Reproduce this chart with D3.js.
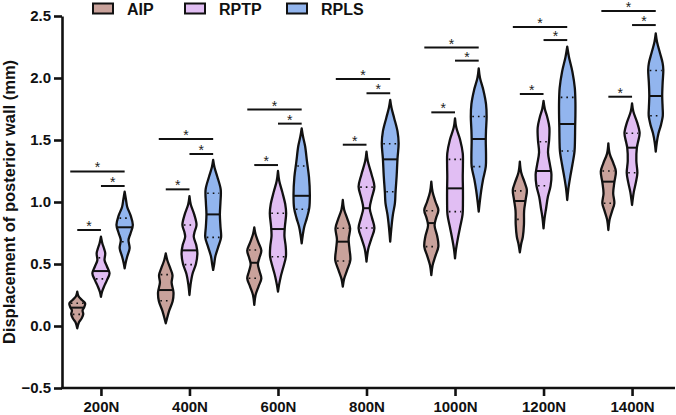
<!DOCTYPE html>
<html>
<head>
<meta charset="utf-8">
<script src="https://cdn.jsdelivr.net/npm/d3@7"></script>
<style>
  body { margin: 0; background: #fff; }
  text { font-family: "Liberation Sans", Arial, sans-serif; }
</style>
</head>
<body>
<div id="chart"></div>
<script>
/* global d3 */

var w = 676,
    h = 415;

var loads = ["200N", "400N", "600N", "800N", "1000N", "1200N", "1400N"];
var groups = ["AIP", "RPTP", "RPLS"];
var yTicks = [-0.5, 0.0, 0.5, 1.0, 1.5, 2.0, 2.5];

// violin outlines: [value, relative width]
var aipShapes = [
    [[0.277,0],[0.24,0.15],[0.21,0.55],[0.183,0.92],[0.15,0.8],[0.125,0.62],[0.095,0.7],[0.06,0.5],[0.03,0.2],[-0.019,0]],
    [[0.586,0],[0.53,0.18],[0.47,0.5],[0.41,0.78],[0.35,0.68],[0.27,0.9],[0.2,0.8],[0.12,0.38],[0.07,0.18],[0.022,0]],
    [[0.796,0],[0.74,0.15],[0.67,0.5],[0.608,0.82],[0.55,0.6],[0.5,0.42],[0.44,0.62],[0.384,0.82],[0.32,0.5],[0.25,0.15],[0.17,0]],
    [[1.016,0],[0.94,0.15],[0.86,0.55],[0.788,0.85],[0.7,0.68],[0.62,0.78],[0.532,0.88],[0.45,0.5],[0.38,0.15],[0.317,0]],
    [[1.164,0],[1.08,0.15],[1.0,0.5],[0.935,0.82],[0.87,0.55],[0.81,0.38],[0.72,0.7],[0.64,0.82],[0.56,0.45],[0.49,0.15],[0.411,0]],
    [[1.325,0],[1.24,0.15],[1.16,0.55],[1.097,0.82],[1.02,0.68],[0.93,0.5],[0.82,0.48],[0.72,0.35],[0.66,0.15],[0.594,0]],
    [[1.473,0],[1.39,0.15],[1.31,0.6],[1.245,0.88],[1.16,0.7],[1.07,0.56],[0.99,0.7],[0.93,0.45],[0.86,0.15],[0.774,0]]
];
var rptpShapes = [
    [[0.72,0],[0.67,0.15],[0.62,0.38],[0.586,0.5],[0.53,0.42],[0.48,0.7],[0.425,1.0],[0.37,0.7],[0.317,0.35],[0.275,0.12],[0.236,0]],
    [[1.048,0],[0.98,0.15],[0.9,0.55],[0.815,0.82],[0.76,0.6],[0.72,0.5],[0.65,0.8],[0.586,0.92],[0.5,0.75],[0.42,0.35],[0.33,0.12],[0.25,0]],
    [[1.25,0],[1.17,0.15],[1.08,0.5],[0.98,0.85],[0.909,0.95],[0.8,0.8],[0.726,0.75],[0.64,0.9],[0.559,0.92],[0.47,0.6],[0.398,0.32],[0.33,0.12],[0.277,0]],
    [[1.406,0],[1.33,0.15],[1.22,0.6],[1.124,0.92],[1.03,0.6],[0.95,0.38],[0.87,0.65],[0.788,0.92],[0.7,0.55],[0.62,0.2],[0.519,0]],
    [[1.675,0],[1.6,0.15],[1.5,0.6],[1.393,0.9],[1.3,0.92],[1.2,0.9],[1.11,0.92],[1.0,0.92],[0.9,0.88],[0.8,0.6],[0.694,0.3],[0.62,0.12],[0.546,0]],
    [[1.815,0],[1.75,0.15],[1.68,0.45],[1.6,0.68],[1.5,0.65],[1.4,0.52],[1.3,0.75],[1.22,0.92],[1.13,0.82],[1.04,0.5],[0.95,0.3],[0.87,0.12],[0.788,0]],
    [[1.796,0],[1.73,0.15],[1.64,0.6],[1.554,0.88],[1.48,0.68],[1.438,0.56],[1.33,0.5],[1.236,0.62],[1.16,0.45],[1.08,0.2],[0.976,0]]
];
var rplsShapes = [
    [[1.083,0],[1.02,0.15],[0.96,0.3],[0.89,0.7],[0.815,0.95],[0.75,0.7],[0.694,0.45],[0.627,0.58],[0.56,0.3],[0.51,0.12],[0.465,0]],
    [[1.339,0],[1.28,0.15],[1.2,0.5],[1.1,0.88],[1.0,0.85],[0.9,0.78],[0.8,0.85],[0.715,0.92],[0.64,0.6],[0.56,0.25],[0.5,0.12],[0.452,0]],
    [[1.594,0],[1.53,0.15],[1.45,0.4],[1.325,0.62],[1.2,0.85],[1.056,0.95],[0.95,0.88],[0.87,0.6],[0.8,0.3],[0.73,0.12],[0.667,0]],
    [[1.823,0],[1.76,0.15],[1.68,0.45],[1.57,0.85],[1.473,0.98],[1.35,0.85],[1.21,0.75],[1.08,0.62],[0.99,0.55],[0.9,0.32],[0.8,0.15],[0.68,0]],
    [[2.078,0],[2.0,0.15],[1.9,0.55],[1.79,0.85],[1.688,0.92],[1.58,0.85],[1.5,0.82],[1.38,0.85],[1.285,0.82],[1.18,0.5],[1.097,0.3],[1.0,0.12],[0.922,0]],
    [[2.252,0],[2.17,0.2],[2.05,0.6],[1.92,0.88],[1.809,0.95],[1.7,0.95],[1.6,0.92],[1.5,0.9],[1.411,0.85],[1.3,0.6],[1.191,0.32],[1.1,0.12],[1.016,0]],
    [[2.36,0],[2.29,0.15],[2.2,0.5],[2.12,0.8],[2.065,0.88],[1.96,0.8],[1.855,0.75],[1.76,0.8],[1.696,0.82],[1.62,0.6],[1.554,0.32],[1.48,0.12],[1.406,0]]
];

var aipMedian = [0.148, 0.29, 0.51, 0.68, 0.83, 1.008, 1.164];
var aipQ3 = [0.183, 0.414, 0.613, 0.788, 0.93, 1.09, 1.25];
var aipQ1 = [0.094, 0.204, 0.385, 0.524, 0.64, 0.86, 0.99];
var rptpMedian = [0.443, 0.61, 0.782, 0.95, 1.11, 1.25, 1.438];
var rptpQ3 = [0.55, 0.815, 0.909, 1.12, 1.344, 1.486, 1.554];
var rptpQ1 = [0.38, 0.495, 0.559, 0.79, 0.922, 1.131, 1.236];
var rplsMedian = [0.796, 0.9, 1.05, 1.344, 1.508, 1.629, 1.855];
var rplsQ3 = [0.87, 1.07, 1.29, 1.47, 1.69, 1.844, 2.06];
var rplsQ1 = [0.68, 0.715, 0.941, 1.083, 1.285, 1.411, 1.696];

// significance bar heights (AIP-RPLS, RPTP-RPLS, AIP-RPTP)
var barLong = [1.246, 1.508, 1.745, 1.992, 2.245, 2.411, 2.54];
var barRight = [1.129, 1.387, 1.632, 1.877, 2.14, 2.306, 2.427];
var barLeft = [0.774, 1.102, 1.298, 1.462, 1.723, 1.871, 1.849];

var color = d3.scaleOrdinal()
    .domain(groups)
    .range(["#c9a29b", "#e1bef3", "#92b5ee"]);

var shapes = { AIP: aipShapes, RPTP: rptpShapes, RPLS: rplsShapes };
var medians = { AIP: aipMedian, RPTP: rptpMedian, RPLS: rplsMedian };
var q3s = { AIP: aipQ3, RPTP: rptpQ3, RPLS: rplsQ3 };
var q1s = { AIP: aipQ1, RPTP: rptpQ1, RPLS: rplsQ1 };

var x = d3.scalePoint().domain(loads).range([62, 671]).padding(0.44);
var offset = d3.scalePoint().domain(groups).range([-23.7, 23.7]);
var y = d3.scaleLinear().domain([-0.5, 2.5]).range([388, 16]);
var wScale = d3.scaleLinear().domain([0, 1]).range([0, 8.6]);

var svg = d3.select("#chart").append("svg")
    .attr("width", w)
    .attr("height", h);

function widthAt(profile, v) {
    for (var i = 0; i < profile.length - 1; i++) {
        var a = profile[i], b = profile[i + 1];
        if (v <= a[0] && v >= b[0]) {
            var t = (a[0] - v) / (a[0] - b[0]);
            return a[1] + t * (b[1] - a[1]);
        }
    }
    return 0;
}

var violins = [];
loads.forEach(function(load, i) {
    groups.forEach(function(g) {
        violins.push({
            load: load,
            group: g,
            cx: x(load) + offset(g),
            profile: shapes[g][i],
            median: medians[g][i],
            q1: q1s[g][i],
            q3: q3s[g][i]
        });
    });
});

var area = d3.area()
    .y(function(d) { return y(d[0]); })
    .curve(d3.curveCatmullRom);

var vg = svg.append("g").attr("class", "violins");

var v = vg.selectAll("g.violin")
    .data(violins)
    .enter().append("g")
    .attr("class", "violin");

v.append("path")
    .attr("d", function(d) {
        return area
            .x0(function(p) { return d.cx - wScale(p[1]); })
            .x1(function(p) { return d.cx + wScale(p[1]); })(d.profile);
    })
    .style("fill", function(d) { return color(d.group); })
    .style("stroke", "#111")
    .style("stroke-width", 2.3)
    .style("stroke-linejoin", "round");

// quartiles dotted
["q1", "q3"].forEach(function(k) {
    v.append("line")
        .attr("x1", function(d) { return d.cx - wScale(widthAt(d.profile, d[k])) + 1.5; })
        .attr("x2", function(d) { return d.cx + wScale(widthAt(d.profile, d[k])) - 1.5; })
        .attr("y1", function(d) { return y(d[k]); })
        .attr("y2", function(d) { return y(d[k]); })
        .style("stroke", "#111")
        .style("stroke-width", 1.6)
        .style("stroke-dasharray", "1.6,4");
});

v.append("line")
    .attr("x1", function(d) { return d.cx - wScale(widthAt(d.profile, d.median)); })
    .attr("x2", function(d) { return d.cx + wScale(widthAt(d.profile, d.median)); })
    .attr("y1", function(d) { return y(d.median); })
    .attr("y2", function(d) { return y(d.median); })
    .style("stroke", "#111")
    .style("stroke-width", 2);

// significance bars
var bars = [];
loads.forEach(function(load, i) {
    var c = x(load);
    bars.push({ x1: c + offset("AIP") - 7, x2: c + offset("RPLS"), v: barLong[i] });
    bars.push({ x1: c + offset("RPTP"), x2: c + offset("RPLS"), v: barRight[i] });
    bars.push({ x1: c + offset("AIP"), x2: c + offset("RPTP"), v: barLeft[i] });
});

var sig = svg.append("g").attr("class", "sig");
sig.selectAll("line")
    .data(bars)
    .enter().append("line")
    .attr("x1", function(d) { return d.x1; })
    .attr("x2", function(d) { return d.x2; })
    .attr("y1", function(d) { return y(d.v); })
    .attr("y2", function(d) { return y(d.v); })
    .style("stroke", "#111")
    .style("stroke-width", 2);

sig.selectAll("text")
    .data(bars)
    .enter().append("text")
    .attr("x", function(d) { return (d.x1 + d.x2) / 2; })
    .attr("y", function(d) { return y(d.v) + 1; })
    .attr("text-anchor", "middle")
    .style("font-size", "14px")
    .style("fill", "#222")
    .text("*");

// axes
var yAxis = svg.append("g")
    .attr("transform", "translate(62,0)")
    .call(d3.axisLeft(y).tickValues(yTicks).tickFormat(d3.format(".1f")).tickSize(8).tickPadding(3).tickSizeOuter(0));

var xAxis = svg.append("g")
    .attr("transform", "translate(0,388)")
    .call(d3.axisBottom(x).tickSize(8).tickPadding(5).tickSizeOuter(0));

xAxis.select(".domain").attr("d", "M61,0H675");

[yAxis, xAxis].forEach(function(ax) {
    ax.select(".domain").style("stroke", "#111").style("stroke-width", 2.6);
    ax.selectAll(".tick line").style("stroke", "#111").style("stroke-width", 2.6);
    ax.selectAll(".tick text")
        .style("font-family", "'Liberation Sans', Arial, sans-serif")
        .style("font-size", "15px")
        .style("font-weight", "bold")
        .style("fill", "#111");
});

svg.append("text")
    .attr("transform", "translate(15,202) rotate(-90)")
    .attr("text-anchor", "middle")
    .style("font-size", "16.5px")
    .style("font-weight", "bold")
    .style("fill", "#111")
    .text("Displacement of posterior wall (mm)");

// legend
var legendX = [93, 185, 287];
var legend = svg.selectAll("g.legend")
    .data(groups)
    .enter().append("g")
    .attr("class", "legend")
    .attr("transform", function(d, i) { return "translate(" + legendX[i] + ",0)"; });

legend.append("rect")
    .attr("x", 0)
    .attr("y", 3.5)
    .attr("width", 20)
    .attr("height", 10)
    .style("fill", function(d) { return color(d); })
    .style("stroke", "#111")
    .style("stroke-width", 2);

legend.append("text")
    .attr("x", 34)
    .attr("y", 15)
    .style("font-size", "16px")
    .style("font-weight", "bold")
    .style("fill", "#111")
    .text(function(d) { return d; });
</script>
</body>
</html>
